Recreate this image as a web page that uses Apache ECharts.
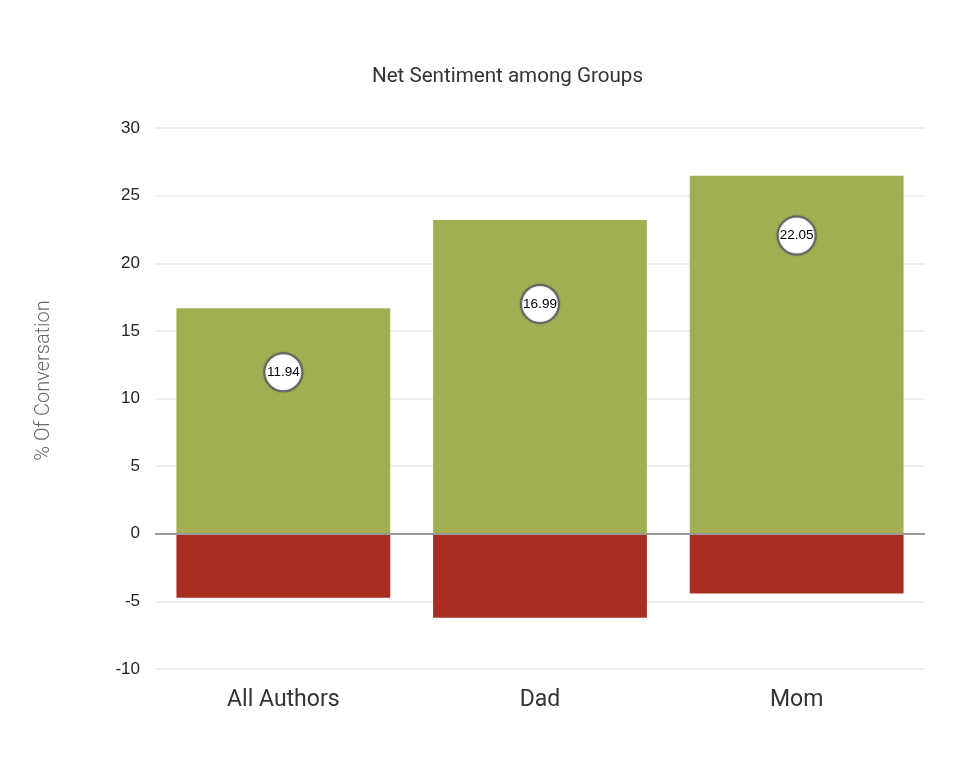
<!DOCTYPE html>
<html>
<head>
<meta charset="utf-8">
<script src="https://cdn.jsdelivr.net/npm/echarts@6/dist/echarts.min.js"></script>
<style>html,body{margin:0;padding:0;background:#fff}#c{width:964px;height:758px}</style>
</head>
<body>
<div id="c"></div>
<script>
const categories = ['All Authors', 'Dad', 'Mom'];
const positiveValues = [16.68, 23.2, 26.47];
const negativeValues = [-4.74, -6.21, -4.42];
const netValues = [11.94, 16.99, 22.05];
const yTicks = { min: -10, max: 30, interval: 5 };

const chart = echarts.init(document.getElementById('c'));
chart.setOption({
  animation: false,
  textStyle: { fontFamily: 'Roboto' },
  title: {
    text: 'Net Sentiment among Groups',
    left: 367, top: 61,
    textStyle: { fontFamily: 'Roboto', fontSize: 20.6, fontWeight: 'normal', color: '#333' }
  },
  grid: { left: 155, right: 39, top: 128, bottom: 89 },
  xAxis: {
    type: 'category', data: categories,
    axisLine: { show: false, onZero: false },
    axisTick: { show: false },
    axisLabel: { fontSize: 23, fontWeight: 'normal', color: '#333', margin: 20, fontFamily: 'Roboto' }
  },
  yAxis: {
    type: 'value', min: yTicks.min, max: yTicks.max, interval: yTicks.interval,
    name: '% Of Conversation', nameLocation: 'middle', nameGap: 101,
    nameTextStyle: { fontSize: 20, fontWeight: 300, color: '#666', fontFamily: 'Roboto', padding: [0, 0, 0, 36] },
    axisLine: { show: false }, axisTick: { show: false },
    axisLabel: { fontSize: 17, color: '#222', margin: 15, fontFamily: 'Liberation Sans' },
    splitLine: { lineStyle: { color: '#eeeeee', width: 2 } }
  },
  series: [
    {
      type: 'bar', name: 'Positive', data: positiveValues,
      barWidth: '83.3%', barGap: '-100%',
      itemStyle: { color: '#a1af52' },
      markLine: {
        silent: true, symbol: 'none', label: { show: false },
        lineStyle: { color: '#999', width: 2, type: 'solid' },
        data: [{ yAxis: 0 }]
      }
    },
    {
      type: 'bar', name: 'Negative', data: negativeValues,
      barWidth: '83.3%', barGap: '-100%',
      itemStyle: { color: '#a92e22' }
    },
    {
      type: 'scatter', name: 'Net', data: netValues,
      symbolSize: 38, z: 5,
      itemStyle: { color: '#ffffff', opacity: 1, borderColor: '#666', borderWidth: 2, shadowColor: 'rgba(0,0,0,0.25)', shadowBlur: 2 },
      label: { show: true, position: 'inside', fontSize: 13.5, color: '#000', fontFamily: 'Liberation Sans' }
    }
  ]
});
</script>
</body>
</html>
